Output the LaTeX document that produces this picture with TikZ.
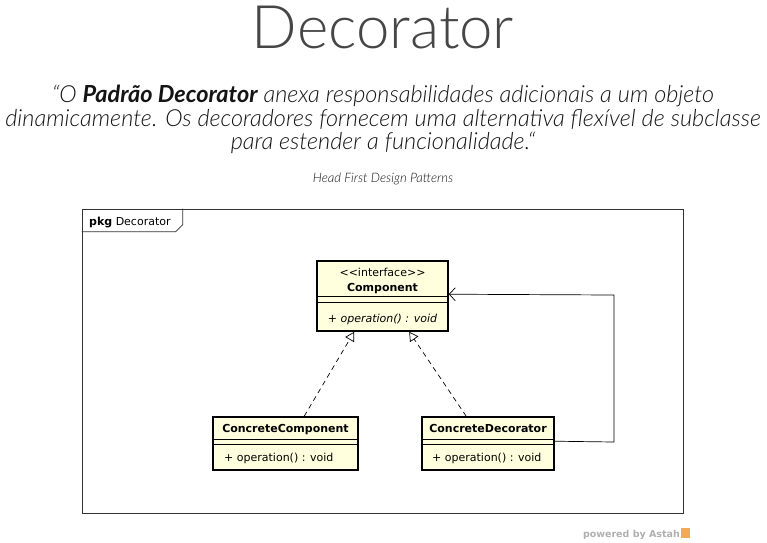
\documentclass[tikz,border=0pt]{standalone}
\usepackage{fontspec}
\setmainfont{DejaVu Sans}
\newfontfamily\lato{Lato}[UprightFont=* Light, ItalicFont=* Light Italic, BoldFont=* Bold, BoldItalicFont=* Bold Italic]
\usetikzlibrary{arrows.meta,calc}
\definecolor{titlegray}{RGB}{70,70,70}
\definecolor{quotegray}{RGB}{20,20,20}
\definecolor{classfill}{RGB}{255,255,222}
\definecolor{astahgray}{RGB}{175,175,175}
\definecolor{astahorange}{RGB}{240,170,90}
\begin{document}
\begin{tikzpicture}[x=1pt,y=-1pt,
  cls/.style={draw=black, line width=1.6pt, fill=classfill, inner sep=0pt},
  clstext/.style={font=\fontsize{11}{13}\selectfont, inner sep=0pt, anchor=base},
  quoteline/.style={font=\lato\itshape\fontsize{23.5}{26}\selectfont, text=quotegray, anchor=base, inner sep=0pt},
  realize/.style={dash pattern=on 5pt off 4pt, line width=0.7pt, -{Triangle[open,length=9pt,width=10pt]}},
  assoc/.style={line width=0.7pt, -{Straight Barb[length=6pt,width=13pt]}}]
\useasboundingbox (0,0) rectangle (767,542);
% title
\node[font=\lato\fontsize{60}{62}\selectfont, text=titlegray, anchor=base, inner sep=0pt] (title) at (383,48) {Decorator};
% quote
\node[quoteline] (q1) at (383,102) {“O \textbf{Padrão Decorator} anexa responsabilidades adicionais a um objeto};
\node[quoteline] (q2) at (383,126) {dinamicamente. Os decoradores fornecem uma alternativa flexível de subclasse};
\node[quoteline] (q3) at (383,149) {para estender a funcionalidade.“};
\node[font=\lato\itshape\fontsize{13}{15}\selectfont, text=quotegray, anchor=base, inner sep=0pt] (src) at (383,182) {Head First Design Patterns};
% package frame
\node[draw=black!80, line width=0.6pt, minimum width=601, minimum height=304, inner sep=0pt] (pkg) at (382.5,361) {};
\draw[black!80, line width=0.6pt] (pkg.north west) ++(0,23) -- ++(94,0) -- ++(7,-7) -- ++(0,-16);
\node[font=\fontsize{11}{13}\selectfont, anchor=base west, inner sep=0pt] (pkglabel) at (89,225) {\textbf{pkg} Decorator};
% Component
\node[cls, minimum width=131, minimum height=70] (comp) at (382.5,296) {};
\node[clstext] (comps) at (382.5,276) {{<}{<}interface{>}{>}};
\node[clstext, font=\bfseries\fontsize{11}{13}\selectfont] (compn) at (382.5,291) {Component};
\draw[line width=0.7pt] ($(comp.north west)+(0,36)$) -- ($(comp.north east)+(0,36)$);
\draw[line width=0.7pt] ($(comp.north west)+(0,42)$) -- ($(comp.north east)+(0,42)$);
\node[clstext, font=\itshape\fontsize{11}{13}\selectfont] (compop) at (382.5,322) {+ operation() : void};
% ConcreteComponent
\node[cls, minimum width=145, minimum height=53] (cc) at (285.5,443.5) {};
\node[clstext, font=\bfseries\fontsize{11}{13}\selectfont] (ccn) at (285.5,432) {ConcreteComponent};
\draw[line width=0.7pt] ($(cc.north west)+(0,23)$) -- ($(cc.north east)+(0,23)$);
\draw[line width=0.7pt] ($(cc.north west)+(0,28)$) -- ($(cc.north east)+(0,28)$);
\node[clstext, anchor=base west] (ccop) at (224,461) {+ operation() : void};
% ConcreteDecorator
\node[cls, minimum width=132, minimum height=53] (cd) at (488,443.5) {};
\node[clstext, font=\bfseries\fontsize{11}{13}\selectfont] (cdn) at (488,432) {ConcreteDecorator};
\draw[line width=0.7pt] ($(cd.north west)+(0,23)$) -- ($(cd.north east)+(0,23)$);
\draw[line width=0.7pt] ($(cd.north west)+(0,28)$) -- ($(cd.north east)+(0,28)$);
\node[clstext, anchor=base west] (cdop) at (432,461) {+ operation() : void};
% connectors
\draw[realize] ($(cc.north west)+(92,0)$) -- ($(comp.south west)+(38,0)$);
\draw[realize] ($(cd.north west)+(45,0)$) -- ($(comp.south west)+(93,0)$);
\coordinate (c1) at (614,442);
\coordinate (c2) at (614,295);
\draw[assoc] ($(cd.north east)+(0,25)$) -- (c1) -- (c2) -- ($(comp.north east)+(0,34)$);
% powered by
\node[font=\bfseries\fontsize{9.5}{11}\selectfont, text=astahgray, anchor=base east, inner sep=0pt] (pw) at (680,537) {powered by Astah};
\node[fill=astahorange, minimum width=9, minimum height=10, inner sep=0pt] (icon) at (685.5,533) {};
\end{tikzpicture}
\end{document}
